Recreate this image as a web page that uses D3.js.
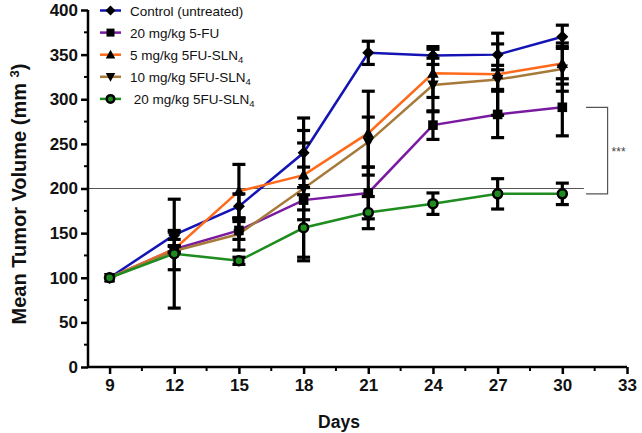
<!DOCTYPE html>
<html><head><meta charset="utf-8">
<script src="https://cdn.jsdelivr.net/npm/d3@7"></script>
<style>body{margin:0;background:#fff}svg{display:block;font-family:Arial,"Liberation Sans",sans-serif}</style>
</head><body><svg id="c" width="642" height="433"></svg>
<script>
const days = [9, 12, 15, 18, 21, 24, 27, 30];
const seriesNames = ["Control (untreated)", "20 mg/kg 5-FU", "5 mg/kg 5FU-SLN", "10 mg/kg 5FU-SLN", " 20 mg/kg 5FU-SLN"];
const seriesSub = ["", "", "4", "4", "4"];
const seriesColors = ["#1414b4", "#7a1aa0", "#ff6a1a", "#a67a3a", "#1e8c1e"];
const seriesMarkers = ["diamond", "square", "triangle", "triangleDown", "circle"];
const controlVals = [100, 148, 180, 240, 352, 349, 350, 370];
const fuVals      = [100, 132, 153, 187, 195, 271, 283, 291];
const sln5Vals    = [100, 132, 197, 215, 262, 329, 328, 340];
const sln10Vals   = [100, 130, 149, 200, 252, 316, 322, 334];
const sln20Vals   = [100, 127, 119, 156, 173, 183, 194, 194];
const controlErr = [0, 5, 14, 39, 13, 10, 12, 13];
const fuErr      = [0, 3, 10, 64, 29, 16, 26, 32];
const sln5Err    = [0, 4, 30, 50, 47, 27, 46, 23];
const sln10Err   = [0, 21, 18, 24, 28, 30, 11, 25];
const sln20Err   = [0, 61, 4, 37, 18, 12, 17, 12];
const yTicks = [0, 50, 100, 150, 200, 250, 300, 350, 400];
const xTicks = [9, 12, 15, 18, 21, 24, 27, 30, 33];
const refLine = 200;
const sigLabel = "***";

const vals = [controlVals, fuVals, sln5Vals, sln10Vals, sln20Vals];
const errs = [controlErr, fuErr, sln5Err, sln10Err, sln20Err];

const svg = d3.select("#c");
const x = d3.scaleLinear().domain([8, 33]).range([88, 627]);
const y = d3.scaleLinear().domain([0, 400]).range([367, 10]);

// reference line at 200
svg.append("line").attr("x1", x(8)).attr("x2", x(31)).attr("y1", y(refLine)).attr("y2", y(refLine))
  .attr("stroke", "#555").attr("stroke-width", 1);

// significance bracket
const bx0 = x(31.1), bx1 = x(32.1);
svg.append("path").attr("d", `M${bx0},${y(291)}H${bx1}V${y(194)}H${bx0}`)
  .attr("fill", "none").attr("stroke", "#555").attr("stroke-width", 1.2);
svg.append("text").attr("x", bx1 + 4).attr("y", y((291 + 194) / 2) + 5).attr("font-size", 12)
  .attr("fill", "#444").text(sigLabel);

// axes
const yAxis = d3.axisLeft(y).tickValues(yTicks).tickSize(7).tickPadding(3).tickFormat(d3.format("d"));
const gy = svg.append("g").attr("transform", `translate(${x(8)},0)`).call(yAxis);
const xAxis = d3.axisBottom(x).tickValues(xTicks).tickSize(7).tickPadding(5);
const gx = svg.append("g").attr("transform", `translate(0,${y(0)})`).call(xAxis);
[gx, gy].forEach(g => {
  g.select(".domain").attr("stroke", "#000").attr("stroke-width", 2.5);
  g.selectAll(".tick line").attr("stroke", "#000").attr("stroke-width", 2.5);
  g.selectAll("text").attr("font-size", 17).attr("font-weight", "bold").attr("fill", "#111")
    .attr("font-family", "Arial, 'Liberation Sans', sans-serif");
});
gx.select(".domain").attr("d", `M${x(8)},0H${x(33)}`);
gy.select(".domain").attr("d", `M0,${y(0)}V${y(400)}`);
// minor ticks
const yMinor = d3.range(25, 400, 50);
svg.append("g").selectAll("line").data(yMinor).join("line")
  .attr("x1", x(8) - 4).attr("x2", x(8)).attr("y1", d => y(d)).attr("y2", d => y(d))
  .attr("stroke", "#000").attr("stroke-width", 2);
const xMinor = d3.range(10.5, 33, 3);
svg.append("g").selectAll("line").data(xMinor).join("line")
  .attr("y1", y(0)).attr("y2", y(0) + 4).attr("x1", d => x(d)).attr("x2", d => x(d))
  .attr("stroke", "#000").attr("stroke-width", 2);

// axis titles
svg.append("text").attr("transform", `translate(26,194) rotate(-90)`)
  .attr("text-anchor", "middle").attr("font-size", 20).attr("font-weight", "bold").attr("fill", "#111")
  .html('Mean Tumor Volume (mm <tspan baseline-shift="super" font-size="13">3</tspan>)');
svg.append("text").attr("x", 339).attr("y", 428).attr("text-anchor", "middle")
  .attr("font-size", 17.5).attr("font-weight", "bold").attr("fill", "#111").text("Days");

// lines
const line = d3.line().x(d => x(d[0])).y(d => y(d[1]));
vals.forEach((v, i) => {
  svg.append("path").datum(days.map((d, j) => [d, v[j]])).attr("d", line)
    .attr("fill", "none").attr("stroke", seriesColors[i]).attr("stroke-width", 2.5);
});

// error bars
const capW = 6.5;
vals.forEach((v, i) => {
  const g = svg.append("g").attr("stroke", "#000").attr("stroke-width", 3.2);
  days.forEach((d, j) => {
    const e = errs[i][j];
    if (!e) return;
    const cx = x(d), t = y(v[j] + e), b = y(v[j] - e);
    g.append("line").attr("x1", cx).attr("x2", cx).attr("y1", t).attr("y2", b);
    g.append("line").attr("x1", cx - capW).attr("x2", cx + capW).attr("y1", t).attr("y2", t);
    g.append("line").attr("x1", cx - capW).attr("x2", cx + capW).attr("y1", b).attr("y2", b);
  });
});

// markers
function drawMarker(g, type, cx, cy, color, s) {
  if (type === "diamond") {
    g.append("path").attr("d", `M${cx},${cy - s}L${cx + s},${cy}L${cx},${cy + s}L${cx - s},${cy}Z`).attr("fill", "#000");
  } else if (type === "square") {
    g.append("rect").attr("x", cx - s * 0.8).attr("y", cy - s * 0.8).attr("width", s * 1.6).attr("height", s * 1.6).attr("fill", "#000");
  } else if (type === "triangle") {
    g.append("path").attr("d", `M${cx},${cy - s}L${cx + s * 0.95},${cy + s * 0.75}L${cx - s * 0.95},${cy + s * 0.75}Z`).attr("fill", "#000");
  } else if (type === "triangleDown") {
    g.append("path").attr("d", `M${cx},${cy + s}L${cx + s * 0.95},${cy - s * 0.75}L${cx - s * 0.95},${cy - s * 0.75}Z`).attr("fill", "#000");
  } else {
    g.append("circle").attr("cx", cx).attr("cy", cy).attr("r", s * 0.75).attr("fill", color)
      .attr("stroke", "#000").attr("stroke-width", 2.5);
  }
}
vals.forEach((v, i) => {
  const g = svg.append("g");
  days.forEach((d, j) => drawMarker(g, seriesMarkers[i], x(d), y(v[j]), seriesColors[i], 6));
});

// legend
const lg = svg.append("g");
seriesNames.forEach((name, i) => {
  const ly = 10.5 + i * 22.1;
  lg.append("line").attr("x1", 100).attr("x2", 121).attr("y1", ly).attr("y2", ly)
    .attr("stroke", seriesColors[i]).attr("stroke-width", 2.5);
  drawMarker(lg, seriesMarkers[i], 110.5, ly, seriesColors[i], 5);
  const t = lg.append("text").attr("x", 130).attr("y", ly + 5).attr("font-size", 13.5).attr("fill", "#111")
    .attr("xml:space", "preserve").text(name);
  if (seriesSub[i]) t.append("tspan").attr("font-size", 9.5).attr("dy", 3).text(seriesSub[i]);
});
</script></body></html>
